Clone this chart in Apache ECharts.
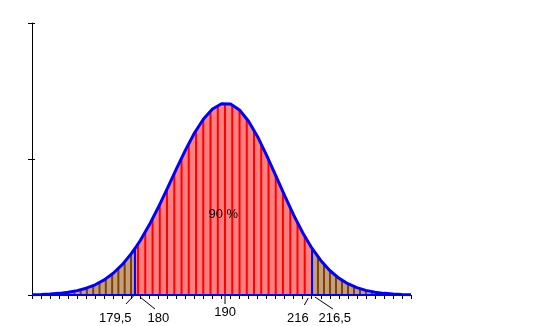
<!DOCTYPE html>
<html><head><meta charset="utf-8">
<script src="https://cdn.jsdelivr.net/npm/echarts/dist/echarts.min.js"></script>
<style>html,body{margin:0;padding:0;background:#fff}#c{width:547px;height:326px}</style>
</head><body><div id="c"></div>
<script>
// ---- data (x in axis-tick units, y in y-tick units) ----
const curveU = [0,1,2,3,4,5,6,7,8,9,10,11,11.41,12,13,14,15,16,17,18,19,20,21,22,23,24,25,26,27,28,29,30,31,31.03,32,33,34,35,36,37,38,39,40,41,42];
const curveY = [0.002,0.004,0.007,0.012,0.020,0.032,0.050,0.075,0.111,0.160,0.223,0.304,0.342,0.401,0.516,0.645,0.784,0.927,1.065,1.191,1.294,1.368,1.406,1.404,1.360,1.278,1.164,1.027,0.879,0.730,0.587,0.458,0.346,0.343,0.254,0.180,0.124,0.083,0.054,0.034,0.021,0.012,0.007,0.004,0.002];
const boundaries = [11.41, 31.03];
const stickU = [3.29,3.99,4.69,5.39,6.08,6.78,7.48,8.18,8.88,9.57,10.27,10.97,
  11.75,12.55,13.36,14.16,14.96,15.77,16.57,17.37,18.18,18.98,19.78,20.59,21.39,22.19,23.00,23.80,24.60,25.40,26.21,27.01,27.81,28.62,29.42,30.22,
  31.69,32.36,33.02,33.69,34.35,35.02,35.68,36.35,37.01,37.68,38.34,39.01,39.67];
const stickY = [0.014,0.020,0.027,0.038,0.051,0.069,0.091,0.119,0.153,0.194,0.243,0.301,
  0.375,0.462,0.561,0.667,0.778,0.894,1.006,1.113,1.211,1.292,1.354,1.394,1.410,1.399,1.360,1.297,1.213,1.111,0.997,0.878,0.758,0.640,0.531,0.432,
  0.280,0.225,0.179,0.140,0.108,0.082,0.062,0.046,0.034,0.024,0.017,0.012,0.008];
const tickLabels = ["179,5","180","190","216","216,5"];
const tickLabelAt = [11.30,11.91,21.39,30.70,31.30];
const areaText = "90 %";
const areaTextAt = [21.2, 0.59];

// ---- build series data ----
const curve = curveU.map((u,i)=>[u,curveY[i]]);
const leftPart = curve.filter(p=>p[0]<=boundaries[0]);
const midPart = curve.filter(p=>p[0]>=boundaries[0] && p[0]<=boundaries[1]);
const rightPart = curve.filter(p=>p[0]>=boundaries[1]);
const boundaryPts = boundaries.map(b=>curve.find(p=>p[0]===b));
const sticks = stickU.map((u,i)=>[u,stickY[i]]);
const baseLine = [[curveU[0],0],[curveU[curveU.length-1],0]];

const RED_FILL='#FF8080', TAN_FILL='#C4A07A', RED_STICK='#FF0000', BROWN_STICK='#804000', BLUE='#0000FF';
const FONT='"Liberation Sans", Arial, sans-serif';
// leader layout relative to tick point: [x0,y0,x1,y1,textDx,textDy]
const leader = [
  [-0.5,1,-8,9,-18.7,23.3],
  [0.5,2,15.5,14,18.8,23.3],
  [0,1,0,9,0,17.8],
  [-0.7,3,-4.7,10,-11.2,23.3],
  [0.5,2,18.5,14,20.3,23.3]
];

const chart = echarts.init(document.getElementById('c'), null, {renderer:'canvas'});
const areaSeries = (data,color)=>({type:'line', data, symbol:'none', smooth:false, z:1,
  lineStyle:{width:0}, areaStyle:{color, opacity:1}, silent:true});

chart.setOption({
  animation:false,
  grid:{left:32, top:23, width:379, height:272, containLabel:false},
  xAxis:{type:'value', min:0, max:42, interval:1,
    axisLine:{show:true, lineStyle:{color:'#000', width:1}},
    axisTick:{show:true, length:4, lineStyle:{color:'#000', width:1}},
    axisLabel:{show:false}, splitLine:{show:false}},
  yAxis:[
    {type:'value', min:0, max:2, interval:1,
      axisLine:{show:true, lineStyle:{color:'#000', width:1}},
      axisTick:{show:true, length:4, lineStyle:{color:'#000'}},
      axisLabel:{show:false}, splitLine:{show:false}},
    {type:'value', min:0, max:2, interval:1, position:'left',
      axisLine:{show:false},
      axisTick:{show:true, inside:true, length:3, lineStyle:{color:'#000'}},
      axisLabel:{show:false}, splitLine:{show:false}}
  ],
  series:[
    areaSeries(leftPart, TAN_FILL),
    areaSeries(midPart, RED_FILL),
    areaSeries(rightPart, TAN_FILL),
    {type:'custom', z:2, silent:true, clip:false, data:sticks,
      renderItem:(params,api)=>{
        const u=api.value(0), h=api.value(1);
        const a=api.coord([u,0]), b=api.coord([u,h]);
        const inMid = u>boundaries[0] && u<boundaries[1];
        return {type:'line', shape:{x1:a[0],y1:a[1],x2:b[0],y2:b[1]},
          style:{stroke: inMid?RED_STICK:BROWN_STICK, lineWidth:2}};
      }},
    {type:'custom', z:3, silent:true, clip:false, data:boundaryPts,
      renderItem:(params,api)=>{
        const a=api.coord([api.value(0),0]), b=api.coord([api.value(0),api.value(1)]);
        return {type:'line', shape:{x1:a[0],y1:a[1],x2:b[0],y2:b[1]}, style:{stroke:BLUE, lineWidth:2}};
      }},
    {type:'line', data:baseLine, symbol:'none', z:4, silent:true, lineStyle:{color:BLUE, width:2}},
    {type:'line', data:curve, symbol:'none', smooth:false, z:4, silent:true, lineStyle:{color:BLUE, width:3}},
    {type:'custom', z:5, silent:true, clip:false,
      data: tickLabels.map((t,i)=>[tickLabelAt[i],0,i]),
      encode:{x:0,y:1},
      renderItem:(params,api)=>{
        const i=api.value(2); const p=api.coord([api.value(0),0]); const L=leader[i];
        return {type:'group', children:[
          {type:'line', shape:{x1:p[0]+L[0],y1:p[1]+L[1],x2:p[0]+L[2],y2:p[1]+L[3]}, style:{stroke:'#000', lineWidth:1}},
          {type:'text', x:p[0]+L[4], y:p[1]+L[5], style:{text:tickLabels[i], fill:'#000', font:'13px '+FONT, align:'center', verticalAlign:'middle'}}
        ]};
      }},
    {type:'custom', z:5, silent:true, clip:false, data:[areaTextAt],
      renderItem:(params,api)=>{
        const p=api.coord([api.value(0),api.value(1)]);
        return {type:'text', x:p[0], y:p[1], style:{text:areaText, fill:'#000', font:'13px '+FONT, align:'center', verticalAlign:'middle'}};
      }}
  ]
});
</script></body></html>
